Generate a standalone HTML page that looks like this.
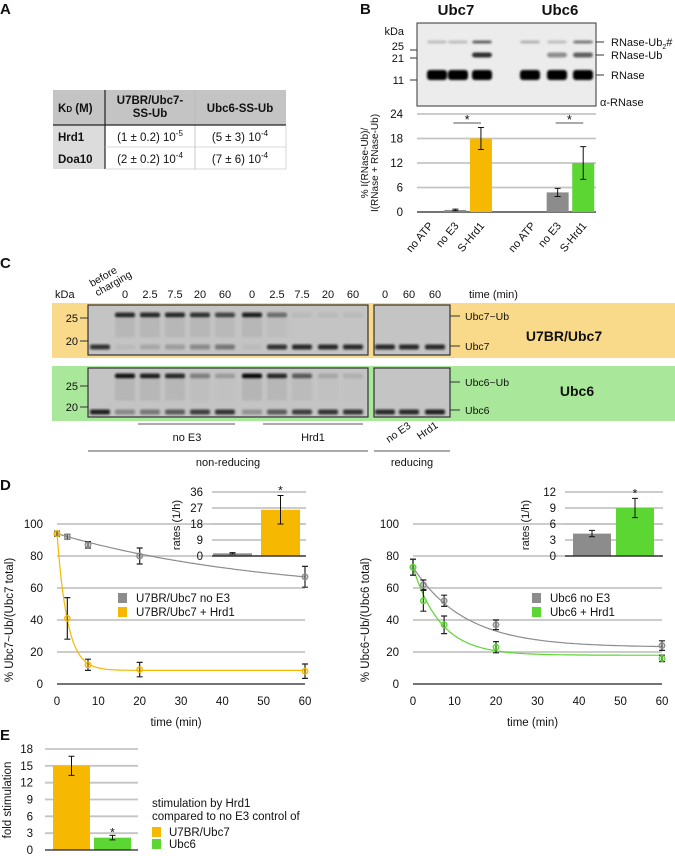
<!DOCTYPE html>
<html><head><meta charset="utf-8">
<style>
html,body{margin:0;padding:0;background:#fff;}
svg{display:block;font-family:"Liberation Sans Narrow","Liberation Sans",sans-serif;}
text{fill:#111;}
</style></head>
<body>
<svg id="fig" width="675" height="856" viewBox="0 0 675 856" xmlns="http://www.w3.org/2000/svg">
<defs>
<filter id="blur" x="-20%" y="-50%" width="140%" height="200%"><feGaussianBlur stdDeviation="1.1"/></filter>
</defs>
<g font-weight="bold" font-size="15">
<text x="0" y="14">A</text>
<text x="360" y="14">B</text>
<text x="0" y="268">C</text>
<text x="0" y="490">D</text>
<text x="0" y="740">E</text>
</g>
<g font-size="11.5">
<rect x="53" y="90" width="233" height="35" fill="#c4c4c4"/>
<rect x="53" y="125" width="52" height="44" fill="#dcdcdc"/>
<line x1="105" y1="90" x2="105" y2="169" stroke="#222" stroke-width="1.2"/>
<line x1="195" y1="90" x2="195" y2="169" stroke="#bbb" stroke-width="0.8"/>
<line x1="53" y1="125" x2="286" y2="125" stroke="#222" stroke-width="1.2"/>
<line x1="105" y1="147" x2="286" y2="147" stroke="#ccc" stroke-width="0.8"/>
<line x1="105" y1="169" x2="286" y2="169" stroke="#ccc" stroke-width="0.8"/>
<line x1="286" y1="125" x2="286" y2="169" stroke="#ccc" stroke-width="0.8"/>
<g font-weight="bold">
<text x="58" y="112">K<tspan font-size="8">D</tspan> (M)</text>
<text x="150" y="104" text-anchor="middle">U7BR/Ubc7-</text>
<text x="150" y="117" text-anchor="middle">SS-Ub</text>
<text x="240" y="112" text-anchor="middle">Ubc6-SS-Ub</text>
<text x="58" y="141">Hrd1</text>
<text x="58" y="163">Doa10</text>
</g>
<text x="150" y="141" text-anchor="middle">(1 ± 0.2) 10<tspan font-size="8" dy="-5">-5</tspan></text>
<text x="240" y="141" text-anchor="middle">(5 ± 3) 10<tspan font-size="8" dy="-5">-4</tspan></text>
<text x="150" y="163" text-anchor="middle">(2 ± 0.2) 10<tspan font-size="8" dy="-5">-4</tspan></text>
<text x="240" y="163" text-anchor="middle">(7 ± 6) 10<tspan font-size="8" dy="-5">-4</tspan></text>
</g>
<g>
<text x="456" y="15" font-size="15" font-weight="bold" text-anchor="middle">Ubc7</text>
<text x="560" y="15" font-size="15" font-weight="bold" text-anchor="middle">Ubc6</text>
<rect x="417" y="23" width="179" height="83" fill="#ececec" stroke="#333" stroke-width="1"/>
<g font-size="11" text-anchor="end">
<text x="404" y="35">kDa</text><text x="404" y="50">25</text><text x="404" y="62">21</text><text x="404" y="84">11</text>
</g>
<g stroke="#333" stroke-width="1"><line x1="410" y1="50" x2="417" y2="50"/><line x1="410" y1="58" x2="417" y2="58"/><line x1="410" y1="80" x2="417" y2="80"/>
<line x1="596" y1="42" x2="604" y2="42"/><line x1="596" y1="55" x2="604" y2="55"/><line x1="596" y1="75" x2="604" y2="75"/></g>
<g font-size="11">
<text x="611" y="46">RNase-Ub<tspan font-size="7" dy="3">2</tspan><tspan dy="-3">#</tspan></text>
<text x="611" y="59">RNase-Ub</text><text x="611" y="79">RNase</text><text x="600" y="106">α-RNase</text>
</g>
<g id="blotB" filter="url(#blur)"></g>
</g>
<g id="chartB">
<text transform="translate(368,163) rotate(-90)" font-size="10" text-anchor="middle">% I(RNase-Ub)/</text>
<text transform="translate(378,163) rotate(-90)" font-size="10" text-anchor="middle">I(RNase + RNase-Ub)</text>
</g>
<g>
<text transform="translate(92,287) rotate(-30)" font-size="10.5"><tspan x="0" y="0">before</tspan><tspan x="0" y="11">charging</tspan></text>
<text x="55" y="298" font-size="11">kDa</text>
<g id="timeLabels" font-size="11" text-anchor="middle"></g>
<text x="469" y="298" font-size="11">time (min)</text>
<rect x="52" y="303" width="623" height="55" fill="#f9d98a"/>
<rect x="52" y="366" width="623" height="55" fill="#a9e79a"/>
<g font-size="11" text-anchor="end">
<text x="78" y="322">25</text><text x="78" y="345">20</text><text x="78" y="390">25</text><text x="78" y="411">20</text>
</g>
<g stroke="#333"><line x1="80" y1="318" x2="88" y2="318"/><line x1="80" y1="341" x2="88" y2="341"/><line x1="80" y1="386" x2="88" y2="386"/><line x1="80" y1="407" x2="88" y2="407"/>
<line x1="450" y1="316" x2="460" y2="316"/><line x1="450" y1="346" x2="460" y2="346"/><line x1="450" y1="382" x2="460" y2="382"/><line x1="450" y1="410" x2="460" y2="410"/></g>
<g font-size="10.5"><text x="465" y="320">Ubc7~Ub</text><text x="465" y="350">Ubc7</text><text x="465" y="386">Ubc6~Ub</text><text x="465" y="414">Ubc6</text></g>
<text x="564" y="341" font-size="14" font-weight="bold" text-anchor="middle">U7BR/Ubc7</text>
<text x="577" y="396" font-size="14" font-weight="bold" text-anchor="middle">Ubc6</text>
<g id="gels"></g>
<g stroke="#777" stroke-width="1.2"><line x1="138" y1="424" x2="235" y2="424"/><line x1="263" y1="424" x2="363" y2="424"/><line x1="88" y1="451" x2="368" y2="451"/><line x1="374" y1="451" x2="450" y2="451"/></g>
<g font-size="11" text-anchor="middle"><text x="187" y="441">no E3</text><text x="313" y="441">Hrd1</text><text x="228" y="466">non-reducing</text><text x="412" y="466">reducing</text></g>
<text transform="translate(389,443) rotate(-35)" font-size="10.5">no E3</text>
<text transform="translate(420,440) rotate(-35)" font-size="10.5">Hrd1</text>
</g>
<g id="chartD"></g>
<g id="chartE"></g>
</svg>
<script>
const bCats = ['no ATP','no E3','S-Hrd1','no ATP','no E3','S-Hrd1'];
const bVals = [0, 0.5, 18, 0, 4.8, 12];
const bErrs = [0, 0.2, 2.7, 0, 1.0, 4.0];
const bTicks = [0, 6, 12, 18, 24];
const dTimes = [0, 2.5, 7.5, 20, 60];
const u7NoE3 = [94, 92, 87, 80, 67];
const u7NoE3Err = [1.5, 1.5, 2, 5, 6.5];
const u7Hrd1 = [94, 41, 12, 9, 8];
const u7Hrd1Err = [1.5, 13, 3.5, 4.5, 4.5];
const u6NoE3 = [73, 62, 52, 37, 24];
const u6NoE3Err = [5, 3, 3.5, 3, 3];
const u6Hrd1 = [73, 52, 37, 23, 16];
const u6Hrd1Err = [5, 6.5, 5.5, 3.5, 2];
const fitU7NoE3 = [55, 39, 0.0197];
const fitU7Hrd1 = [8.5, 85.5, 0.40];
const fitU6NoE3 = [23, 50, 0.08];
const fitU6Hrd1 = [18, 55, 0.15];
const dTicksY = [0, 20, 40, 60, 80, 100];
const dTicksX = [0, 10, 20, 30, 40, 50, 60];
const rateU7 = [1.5, 26], rateU7Err = [0.4, 8], rateU7Ticks = [0, 9, 18, 27, 36];
const rateU6 = [4.2, 9], rateU6Err = [0.6, 1.8], rateU6Ticks = [0, 3, 6, 9, 12];
const eVals = [15, 2.2], eErrs = [1.7, 0.4], eTicks = [0, 3, 6, 9, 12, 15, 18];
const timeLabels = ['0','2.5','7.5','20','60','0','2.5','7.5','20','60','0','60','60'];
const gelU7 = [[0,0.8],[0.85,0.05],[0.85,0.15],[0.85,0.2],[0.8,0.35],[0.7,0.45],[0.9,0.05],[0.5,0.8],[0.05,0.85],[0.05,0.85],[0.05,0.85]];
const gelU7R = [[0,0.85],[0,0.85],[0,0.85]];
const gelU6 = [[0,0.9],[0.95,0.35],[0.9,0.45],[0.85,0.6],[0.4,0.75],[0.2,0.8],[1,0.25],[0.85,0.6],[0.6,0.75],[0.15,0.8],[0.1,0.8]];
const gelU6R = [[0,0.85],[0,0.85],[0,0.9]];
const blotB = [[0.2,0,1],[0.2,0,1],[0.6,0.8,1],[0.25,0,1],[0.2,0.4,1],[0.5,0.6,1]];

const NS='http://www.w3.org/2000/svg';
function mk(tag, parent, attrs){const e=document.createElementNS(NS,tag);for(const k in attrs)e.setAttribute(k,attrs[k]);parent.appendChild(e);return e;}
const YEL='#f6b800', GRN='#5cd633', GRY='#8c8c8c';
const GRID='#c4c4c4';

const bb=document.getElementById('blotB');
const laneXB=[437,458,482,530,557,583];
blotB.forEach((l,i)=>{
  const ys=[42,55,75], hs=[3,5,10];
  l.forEach((v,j)=>{ if(v>0){
    const r=mk('rect',bb,{x:laneXB[i]-10,y:ys[j]-hs[j]/2,width:20,height:hs[j],rx:3,fill:'#000','fill-opacity':v});
    
    
  }});
});

const cB=document.getElementById('chartB');
const yB=v=>212-v*98/24;
const xB=i=>417+(i+(i>=3?1:0)+0.5)*179/7;
bTicks.forEach(t=>{
  if(t>0){const g=mk('line',cB,{x1:417,x2:596,y1:yB(t),y2:yB(t),stroke:GRID,'stroke-width':1.8});
  
  }
  const tx=mk('text',cB,{x:403,y:yB(t)+4,'font-size':11.5,'text-anchor':'end'});tx.textContent=t;
  
  
});
mk('line',cB,{x1:417,x2:596,y1:212,y2:212,stroke:'#222','stroke-width':1.3});
const bCol=[GRY,GRY,YEL,GRY,GRY,GRN];
bVals.forEach((v,i)=>{
  const x=xB(i);
  const r=mk('rect',cB,{x:x-11,y:yB(v),width:22,height:212-yB(v),fill:bCol[i]});
  
  
  if(bErrs[i]>0){
    mk('path',cB,{d:`M${x} ${yB(v+bErrs[i])}V${yB(v-bErrs[i])}M${x-3} ${yB(v+bErrs[i])}h6M${x-3} ${yB(v-bErrs[i])}h6`,stroke:'#111','stroke-width':1,fill:'none'});
  }
  const t=mk('text',cB,{transform:`translate(${x+4},${226}) rotate(-50)`,'font-size':11,'text-anchor':'end'});
  t.textContent=bCats[i];
  
  
});
[[1,2],[4,5]].forEach(p=>{
  mk('line',cB,{x1:xB(p[0])-2,x2:xB(p[1]),y1:123,y2:123,stroke:'#555','stroke-width':1});
  const s=mk('text',cB,{x:(xB(p[0])+xB(p[1]))/2-1,y:124,'font-size':13,'text-anchor':'middle'});s.textContent='*';
  
  
});

const tl=document.getElementById('timeLabels');
const laneNR=[125,150,175,200,225,252,277,302,328,353], laneR=[385,409,435];
const laneAll=laneNR.concat(laneR);
timeLabels.forEach((s,i)=>{const t=mk('text',tl,{x:laneAll[i],y:298});t.textContent=s;
  
  });
const gels=document.getElementById('gels');
function gel(x,y,w,h,lanes,data,upY,loY,name){
  const g=mk('g',gels,{});
  
  
  mk('rect',g,{x:x,y:y,width:w,height:h,fill:'#c4c4c4'});
  const bg=mk('g',g,{filter:'url(#blur)'});
  data.forEach((d,i)=>{
    if(d[0]>0){mk('rect',bg,{x:lanes[i]-10,y:upY-2.5,width:20,height:5,rx:2,fill:'#111','fill-opacity':d[0]});
      mk('rect',bg,{x:lanes[i]-10,y:upY+3,width:20,height:(loY-upY)*0.6,fill:'#888','fill-opacity':d[0]*0.25});}
    if(d[1]>0)mk('rect',bg,{x:lanes[i]-10,y:loY-2.5,width:20,height:5,rx:2,fill:'#111','fill-opacity':d[1]});
  });
  mk('rect',g,{x:x,y:y,width:w,height:h,fill:'none',stroke:'#333','stroke-width':1.2});
}
const laneG1=[100].concat(laneNR);
gel(88,305,280,50,laneG1,gelU7,315,347,'ubc7-gel-nonreducing');
gel(374,305,76,50,laneR,gelU7R,315,347,'ubc7-gel-reducing');
gel(88,368,280,49,laneG1,gelU6,376,412,'ubc6-gel-nonreducing');
gel(374,368,76,49,laneR,gelU6R,376,412,'ubc6-gel-reducing');

const cD=document.getElementById('chartD');
function lineChart(x0,x60,ylab,series,name,legend,legX){
  const X=t=>x0+t*(x60-x0)/60, Y=v=>684-v*1.6;
  dTicksY.forEach(t=>{
    if(t>0){const g=mk('line',cD,{x1:x0,x2:x60,y1:Y(t),y2:Y(t),stroke:GRID,'stroke-width':1.8});
      
      }
    const tx=mk('text',cD,{x:x0-14,y:Y(t)+4,'font-size':11.5,'text-anchor':'end'});tx.textContent=t;
    
    
  });
  mk('line',cD,{x1:x0,x2:x60,y1:684,y2:684,stroke:'#222','stroke-width':1.3});
  dTicksX.forEach(t=>{const tx=mk('text',cD,{x:X(t),y:705,'font-size':11.5,'text-anchor':'middle'});tx.textContent=t;
    
    });
  const xt=mk('text',cD,{x:(x0+x60)/2-5,y:726,'font-size':11.5,'text-anchor':'middle'});xt.textContent='time (min)';
  
  
  const yt=mk('text',cD,{transform:`translate(${x0-44},620) rotate(-90)`,'font-size':11.5,'text-anchor':'middle'});yt.textContent=ylab;
  
  
  series.forEach(s=>{
    let d='';for(let t=0;t<=60;t+=0.5){const v=s.fit[0]+s.fit[1]*Math.exp(-s.fit[2]*t);d+=(t?'L':'M')+X(t).toFixed(1)+' '+Y(v).toFixed(1);}
    const p=mk('path',cD,{d:d,fill:'none',stroke:s.col,'stroke-width':1.2});
    
    
    s.vals.forEach((v,i)=>{
      const x=X(dTimes[i]),e=s.err[i];
      mk('path',cD,{d:`M${x} ${Y(v+e)}V${Y(v-e)}M${x-3} ${Y(v+e)}h6M${x-3} ${Y(v-e)}h6`,stroke:'#222','stroke-width':1.2,fill:'none'});
      const c=mk('circle',cD,{cx:x,cy:Y(v),r:2.8,fill:s.col,'fill-opacity':0.35,stroke:s.col,'stroke-width':1.3});
      
      
    });
  });
  legend.forEach((l,i)=>{
    const r=mk('rect',cD,{x:legX,y:593+i*14,width:9,height:10,fill:l[1]});
    
    
    const t=mk('text',cD,{x:legX+18,y:602+i*14,'font-size':11.5});t.textContent=l[0];
    
    
  });
}
function inset(x0,x1,ticks,vals,errs,cols,barX,w,lblX,name){
  const max=ticks[ticks.length-1];
  const Y=v=>556-v*64/max;
  ticks.forEach(t=>{
    if(t>0){const g=mk('line',cD,{x1:x0,x2:x1,y1:Y(t),y2:Y(t),stroke:GRID,'stroke-width':1.8});
      
      }
    const tx=mk('text',cD,{x:x0-9,y:Y(t)+4,'font-size':11.5,'text-anchor':'end'});tx.textContent=t;
    
    
  });
  vals.forEach((v,i)=>{
    const r=mk('rect',cD,{x:barX[i],y:Y(v),width:w,height:556-Y(v),fill:cols[i]});
    
    
    const x=barX[i]+w/2,e=errs[i];
    mk('path',cD,{d:`M${x} ${Y(v+e)}V${Y(v-e)}M${x-3} ${Y(v+e)}h6M${x-3} ${Y(v-e)}h6`,stroke:'#111','stroke-width':1,fill:'none'});
  });
  mk('line',cD,{x1:x0,x2:x1,y1:556,y2:556,stroke:'#222','stroke-width':1.3});
  const s=mk('text',cD,{x:barX[1]+w/2,y:Y(vals[1]+errs[1])-1,'font-size':12,'text-anchor':'middle'});s.textContent='*';
  
  
  const lt=mk('text',cD,{transform:`translate(${lblX},525) rotate(-90)`,'font-size':11,'text-anchor':'middle'});lt.textContent='rates (1/h)';
  
  
}
lineChart(57,305,'% Ubc7~Ub/(Ubc7 total)',[
  {key:'u7-noe3',vals:u7NoE3,err:u7NoE3Err,fit:fitU7NoE3,col:GRY},
  {key:'u7-hrd1',vals:u7Hrd1,err:u7Hrd1Err,fit:fitU7Hrd1,col:YEL}],'ubc7',
  [['U7BR/Ubc7 no E3',GRY],['U7BR/Ubc7 + Hrd1',YEL]],118);
lineChart(413,662,'% Ubc6~Ub/(Ubc6 total)',[
  {key:'u6-noe3',vals:u6NoE3,err:u6NoE3Err,fit:fitU6NoE3,col:GRY},
  {key:'u6-hrd1',vals:u6Hrd1,err:u6Hrd1Err,fit:fitU6Hrd1,col:GRN}],'ubc6',
  [['Ubc6 no E3',GRY],['Ubc6 + Hrd1',GRN]],532);
inset(212,306,rateU7Ticks,rateU7,rateU7Err,[GRY,YEL],[213,261],39,180,'rate-ubc7');
inset(565,663,rateU6Ticks,rateU6,rateU6Err,[GRY,GRN],[573,616],38,529,'rate-ubc6');

const cE=document.getElementById('chartE');
const yE=v=>850-v*101/18;
eTicks.forEach(t=>{
  if(t>0){const g=mk('line',cE,{x1:45,x2:138,y1:yE(t),y2:yE(t),stroke:GRID,'stroke-width':1.8});
    
    }
  const tx=mk('text',cE,{x:33,y:yE(t)+4,'font-size':11.5,'text-anchor':'end'});tx.textContent=t;
  
  
});
const eX=[53,94], eCol=[YEL,GRN];
eVals.forEach((v,i)=>{
  const r=mk('rect',cE,{x:eX[i],y:yE(v),width:37,height:850-yE(v),fill:eCol[i]});
  
  
  const x=eX[i]+18.5,e=eErrs[i];
  mk('path',cE,{d:`M${x} ${yE(v+e)}V${yE(v-e)}M${x-3} ${yE(v+e)}h6M${x-3} ${yE(v-e)}h6`,stroke:'#111','stroke-width':1,fill:'none'});
});
mk('line',cE,{x1:45,x2:138,y1:850,y2:850,stroke:'#222','stroke-width':1.3});
const st=mk('text',cE,{x:eX[1]+18.5,y:yE(eVals[1]+eErrs[1])+1,'font-size':12,'text-anchor':'middle'});st.textContent='*';


const ey=mk('text',cE,{transform:'translate(11,800) rotate(-90)','font-size':11.5,'text-anchor':'middle'});ey.textContent='fold stimulation';


[['stimulation by Hrd1',807],['compared to no E3 control of',820]].forEach(a=>{const t=mk('text',cE,{x:152,y:a[1],'font-size':11.5});t.textContent=a[0];
  
  });
[['U7BR/Ubc7',YEL],['Ubc6',GRN]].forEach((l,i)=>{
  const r=mk('rect',cE,{x:152,y:827+i*12,width:9,height:10,fill:l[1]});
  
  
  const t=mk('text',cE,{x:169,y:836+i*12,'font-size':11.5});t.textContent=l[0];
  
  
});
</script>
</body></html>
